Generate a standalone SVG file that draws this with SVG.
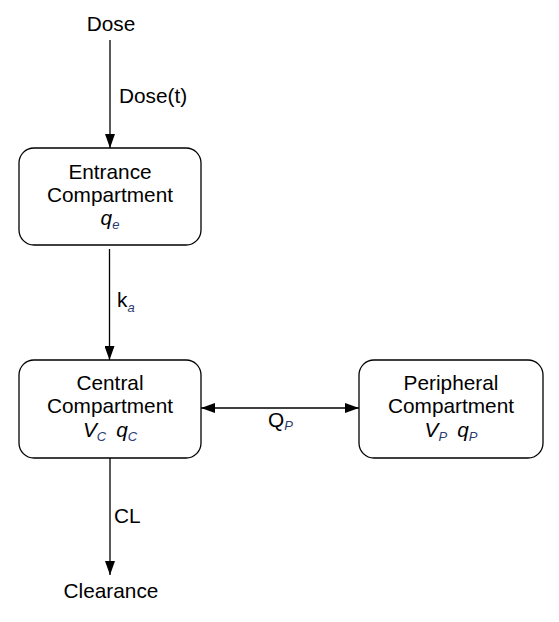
<svg xmlns="http://www.w3.org/2000/svg" width="559" height="622" viewBox="0 0 559 622">
<style>
.box{fill:#fff;stroke:#000;stroke-width:1.3}
.t{font-family:"Liberation Sans",Arial,sans-serif;font-size:20.8px;fill:#000}
.c{text-anchor:middle}
.i{font-style:italic}
.s{font-size:13px;fill:#2a3c70}
.e{stroke:#000;stroke-width:1.3;fill:none}
</style>
<defs>
<marker id="ah" viewBox="0 0 14 10" refX="14" refY="5" markerWidth="14" markerHeight="10" markerUnits="userSpaceOnUse" orient="auto-start-reverse">
<path d="M0,0 L14,5 L0,10 Z" fill="#000"/>
</marker>
</defs>
<rect width="559" height="622" fill="#fff"/>
<g id="edges">
<line class="e" x1="110" y1="40" x2="110" y2="148" marker-end="url(#ah)"/>
<text class="t" x="119" y="103">Dose(t)</text>
<line class="e" x1="109.5" y1="249" x2="109.5" y2="360" marker-end="url(#ah)"/>
<text class="t" x="117" y="307">k<tspan class="s i" dy="5">a</tspan></text>
<line class="e" x1="201" y1="408" x2="359" y2="408" marker-start="url(#ah)" marker-end="url(#ah)"/>
<text class="t" x="268" y="427">Q<tspan class="s i" dy="3">P</tspan></text>
<line class="e" x1="110" y1="458" x2="110" y2="575" marker-end="url(#ah)"/>
<text class="t" x="114" y="523">CL</text>
</g>
<g id="dose"><text class="t c" x="111" y="31">Dose</text></g>
<g id="entrance">
<rect class="box" x="19" y="148" width="182" height="97" rx="15"/>
<text class="t c" x="110" y="179">Entrance</text>
<text class="t c" x="110" y="202">Compartment</text>
<text class="t c" x="110" y="225"><tspan class="i">q</tspan><tspan class="s i" dy="4">e</tspan></text>
</g>
<g id="central">
<rect class="box" x="19" y="360" width="182" height="98" rx="15"/>
<text class="t c" x="110" y="390">Central</text>
<text class="t c" x="110" y="413">Compartment</text>
<text class="t c" x="110" y="437"><tspan class="i">V</tspan><tspan class="s i" dy="4">C</tspan><tspan class="i" dy="-4" dx="10">q</tspan><tspan class="s i" dy="4">C</tspan></text>
</g>
<g id="peripheral">
<rect class="box" x="359" y="360" width="184" height="98" rx="15"/>
<text class="t c" x="451" y="390">Peripheral</text>
<text class="t c" x="451" y="413">Compartment</text>
<text class="t c" x="451" y="437"><tspan class="i">V</tspan><tspan class="s i" dy="4">P</tspan><tspan class="i" dy="-4" dx="10">q</tspan><tspan class="s i" dy="4">P</tspan></text>
</g>
<g id="clearance"><text class="t c" x="111" y="598">Clearance</text></g>
</svg>
